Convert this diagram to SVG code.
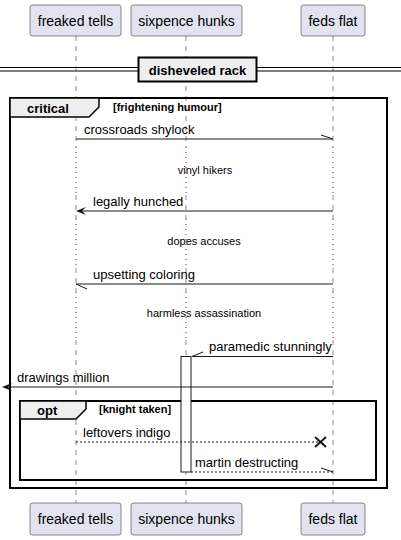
<svg xmlns="http://www.w3.org/2000/svg" width="401" height="540" viewBox="0 0 401 540">
<style>
text{font-family:"Liberation Sans",Arial,sans-serif;fill:#000}
.p{fill:#E2E2F0;stroke:#181818;stroke-width:0.5}
.pt{font-size:14px;text-anchor:middle}
.ll{stroke:#181818;stroke-width:0.5;stroke-dasharray:5,5;fill:none}
.dl{stroke:#A80036;stroke-width:1;stroke-dasharray:1,4;fill:none}
.m{stroke:#181818;stroke-width:1;fill:none}
.md{stroke:#181818;stroke-width:1;fill:none;stroke-dasharray:2,2}
.ah{fill:#181818}
.mt{font-size:13px}
.dt{font-size:11px;text-anchor:middle}
.fr{fill:none;stroke:#000;stroke-width:2}
.tab{fill:#EEEEEE;stroke:#000;stroke-width:1.5}
.ft{font-size:13px;font-weight:bold}
.fc{font-size:11px;font-weight:bold}
</style>
<g id="lifelines">
<line class="ll" x1="76" y1="36" x2="76" y2="147"/>
<line class="dl" x1="76" y1="147" x2="76" y2="195"/>
<line class="ll" x1="76" y1="195" x2="76" y2="219"/>
<line class="dl" x1="76" y1="219" x2="76" y2="268"/>
<line class="ll" x1="76" y1="268" x2="76" y2="292"/>
<line class="dl" x1="76" y1="292" x2="76" y2="340"/>
<line class="ll" x1="76" y1="340" x2="76" y2="503"/>
<line class="ll" x1="186" y1="36" x2="186" y2="147"/>
<line class="dl" x1="186" y1="147" x2="186" y2="195"/>
<line class="ll" x1="186" y1="195" x2="186" y2="219"/>
<line class="dl" x1="186" y1="219" x2="186" y2="268"/>
<line class="ll" x1="186" y1="268" x2="186" y2="292"/>
<line class="dl" x1="186" y1="292" x2="186" y2="340"/>
<line class="ll" x1="186" y1="340" x2="186" y2="503"/>
<line class="ll" x1="333" y1="36" x2="333" y2="147"/>
<line class="dl" x1="333" y1="147" x2="333" y2="195"/>
<line class="ll" x1="333" y1="195" x2="333" y2="219"/>
<line class="dl" x1="333" y1="219" x2="333" y2="268"/>
<line class="ll" x1="333" y1="268" x2="333" y2="292"/>
<line class="dl" x1="333" y1="292" x2="333" y2="340"/>
<line class="ll" x1="333" y1="340" x2="333" y2="503"/>
</g>
<g id="p-freaked-tells">
<rect class="p" x="30" y="5" width="91" height="31" rx="2.5"/>
<text class="pt" x="75.5" y="26">freaked tells</text>
<rect class="p" x="30" y="503" width="91" height="32" rx="2.5"/>
<text class="pt" x="75.5" y="524">freaked tells</text>
</g>
<g id="p-sixpence-hunks">
<rect class="p" x="131" y="5" width="111" height="31" rx="2.5"/>
<text class="pt" x="186.5" y="26">sixpence hunks</text>
<rect class="p" x="131" y="503" width="111" height="32" rx="2.5"/>
<text class="pt" x="186.5" y="524">sixpence hunks</text>
</g>
<g id="p-feds-flat">
<rect class="p" x="301" y="5" width="64" height="31" rx="2.5"/>
<text class="pt" x="333" y="26">feds flat</text>
<rect class="p" x="301" y="503" width="64" height="32" rx="2.5"/>
<text class="pt" x="333" y="524">feds flat</text>
</g>
<g id="divider">
<line x1="0" y1="67.5" x2="401" y2="67.5" stroke="#000" stroke-width="1"/>
<line x1="0" y1="71" x2="401" y2="71" stroke="#000" stroke-width="1"/>
<rect x="138.5" y="57.5" width="118" height="24" fill="#EEEEEE" stroke="#000" stroke-width="2"/>
<text class="ft" x="197.5" y="75" text-anchor="middle">disheveled rack</text>
</g>
<g id="frame-critical">
<rect class="fr" x="10" y="98" width="377" height="390"/>
<polygon class="tab" points="10,98 99,98 99,107 89,117 10,117"/>
<text class="ft" x="27" y="113">critical</text>
<text class="fc" x="113" y="111">[frightening humour]</text>
</g>
<g id="frame-opt">
<rect class="fr" x="20" y="401" width="356" height="79"/>
<polygon class="tab" points="20,401 86,401 86,409 76,419 20,419"/>
<text class="ft" x="37" y="415">opt</text>
<text class="fc" x="99" y="413">[knight taken]</text>
</g>
<g id="activation">
<rect x="181" y="356.5" width="10" height="115.5" fill="#fff" stroke="#181818" stroke-width="1"/>
</g>
<g id="connectors">
<line class="m" x1="76" y1="139" x2="333" y2="139"/>
<line class="m" x1="321" y1="135" x2="333" y2="139"/>
<text class="mt" x="84" y="134">crossroads shylock</text>
<text class="dt" x="205" y="174">vinyl hikers</text>
<line class="m" x1="333" y1="211" x2="80" y2="211"/>
<polygon class="ah" points="76,211 86,207 82,211 86,215"/>
<text class="mt" x="93" y="206">legally hunched</text>
<text class="dt" x="204" y="245">dopes accuses</text>
<line class="m" x1="333" y1="284" x2="76" y2="284"/>
<line class="m" x1="76" y1="284" x2="87" y2="289"/>
<text class="mt" x="93" y="279">upsetting coloring</text>
<text class="dt" x="204" y="317">harmless assassination</text>
<line class="m" x1="333" y1="356.5" x2="192" y2="356.5"/>
<line class="m" x1="192" y1="356.5" x2="203" y2="352"/>
<text class="mt" x="209" y="351">paramedic stunningly</text>
<line class="m" x1="333" y1="387" x2="6" y2="387"/>
<polygon class="ah" points="2,387 12,383 8,387 12,391"/>
<text class="mt" x="17" y="382">drawings million</text>
<line class="md" x1="76" y1="442" x2="321" y2="442"/>
<line x1="315" y1="437" x2="326" y2="447" stroke="#181818" stroke-width="2"/>
<line x1="315" y1="447" x2="326" y2="437" stroke="#181818" stroke-width="2"/>
<text class="mt" x="83" y="437">leftovers indigo</text>
<line class="md" x1="191" y1="472" x2="333" y2="472"/>
<line class="m" x1="321" y1="468" x2="333" y2="472"/>
<text class="mt" x="195" y="467">martin destructing</text>
</g>
</svg>
